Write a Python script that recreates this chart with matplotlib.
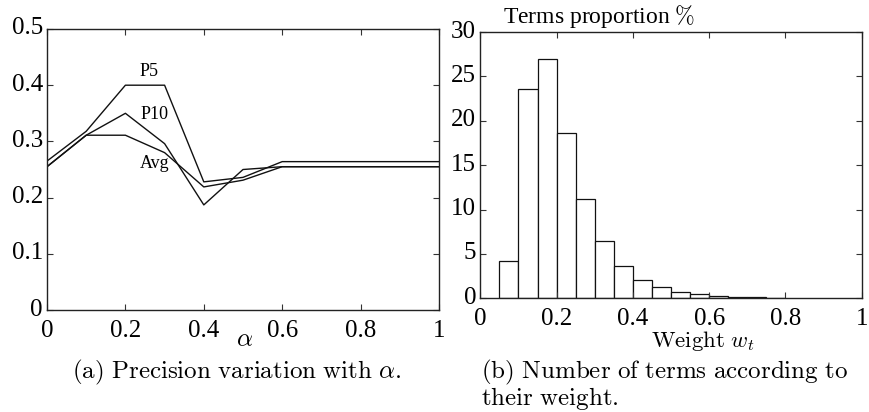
import matplotlib
matplotlib.use("Agg")
import matplotlib.pyplot as plt
import matplotlib.transforms as mtransforms

plt.rcParams['mathtext.fontset'] = 'cm'
plt.rcParams['font.family'] = ['Liberation Serif', 'DejaVu Serif']

# ---- data ----
alpha = [0.0, 0.1, 0.2, 0.3, 0.4, 0.5, 0.6, 0.7, 0.8, 0.9, 1.0]
p5 = [0.265, 0.318, 0.400, 0.400, 0.228, 0.236, 0.264, 0.264, 0.264, 0.264, 0.264]
p10 = [0.255, 0.311, 0.350, 0.296, 0.187, 0.250, 0.255, 0.255, 0.255, 0.255, 0.255]
avg = [0.255, 0.311, 0.311, 0.280, 0.219, 0.231, 0.255, 0.255, 0.255, 0.255, 0.255]

bin_left = [0.05, 0.10, 0.15, 0.20, 0.25, 0.30, 0.35, 0.40, 0.45, 0.50,
            0.55, 0.60, 0.65, 0.70, 0.75]
bin_width = 0.05
proportion = [4.24, 23.6, 26.96, 18.66, 11.23, 6.46, 3.64, 2.07, 1.24, 0.70,
              0.45, 0.30, 0.18, 0.10, 0.07]

x_ticks = [0, 0.2, 0.4, 0.6, 0.8, 1.0]
x_ticklabels = ['0', '0.2', '0.4', '0.6', '0.8', '1']
left_yticks = [0, 0.1, 0.2, 0.3, 0.4, 0.5]
left_yticklabels = ['0', '0.1', '0.2', '0.3', '0.4', '0.5']
right_yticks = [0, 5, 10, 15, 20, 25, 30]

W, H = 869, 412
fig = plt.figure(figsize=(W / 100, H / 100), dpi=100)

def ax_rect(l, t, r, b):
    return [l / W, (H - b) / H, (r - l) / W, (b - t) / H]

tick_fs = 18

def style(ax):
    ax.tick_params(direction='in', top=True, right=True, length=4, width=0.8,
                   labelsize=tick_fs, color='#333333')
    ax.tick_params(axis='x', pad=7)
    ax.tick_params(axis='y', pad=3)
    for s in ax.spines.values():
        s.set_linewidth(1.0)
        s.set_color('#222222')
    off = mtransforms.ScaledTranslation(0, 3 / 100, fig.dpi_scale_trans)
    for lab in ax.get_yticklabels():
        lab.set_transform(lab.get_transform() + off)

# ---- left: precision lines ----
ax1 = fig.add_axes(ax_rect(47, 29, 439, 310))
lw = 1.0
ax1.plot(alpha, p5, color='#111111', lw=lw)
ax1.plot(alpha, p10, color='#111111', lw=lw)
ax1.plot(alpha, avg, color='#111111', lw=lw)
ax1.set_xlim(0, 1)
ax1.set_ylim(0, 0.5)
ax1.set_xticks(x_ticks)
ax1.set_xticklabels(x_ticklabels)
ax1.set_yticks(left_yticks)
ax1.set_yticklabels(left_yticklabels)
style(ax1)
ax1.text(0.26, 0.425, 'P5', fontsize=13, ha='center', va='center')
ax1.text(0.273, 0.348, 'P10', fontsize=13, ha='center', va='center')
ax1.text(0.275, 0.261, 'Avg', fontsize=13, ha='center', va='center')

# ---- right: histogram ----
ax2 = fig.add_axes(ax_rect(480.3, 32, 861.7, 298.3))
ax2.bar(bin_left, proportion, width=bin_width, align='edge',
        facecolor='white', edgecolor='#111111', linewidth=0.9)
ax2.set_xlim(0, 1)
ax2.set_ylim(0, 30)
ax2.set_xticks(x_ticks)
ax2.set_xticklabels(x_ticklabels)
ax2.set_yticks(right_yticks)
style(ax2)

# ---- labels & captions ----
fig.text(245 / W, 1 - 340 / H, r'$\alpha$', fontsize=18, ha='center', va='center')
fig.text(503 / W, 1 - 17 / H, r'Terms proportion $\%$', fontsize=17,
         ha='left', va='center')
fig.text(702.5 / W, 1 - 347 / H, r'$\mathrm{Weight}\ w_t$', fontsize=16.5,
         ha='center', va='baseline')

cap_fs = 18
fig.text(237 / W, 1 - 372 / H,
         r'$\mathrm{(a)\ Precision\ variation\ with\ }\alpha\mathrm{.}$',
         fontsize=cap_fs, ha='center', va='center')
fig.text(481 / W, 1 - 372 / H,
         r'$\mathrm{(b)\ Number\ of\ terms\ according\ to}$',
         fontsize=cap_fs, ha='left', va='center')
fig.text(481 / W, 1 - 398 / H, r'$\mathrm{their\ weight.}$',
         fontsize=cap_fs, ha='left', va='center')

fig.savefig('out.png', dpi=100)
